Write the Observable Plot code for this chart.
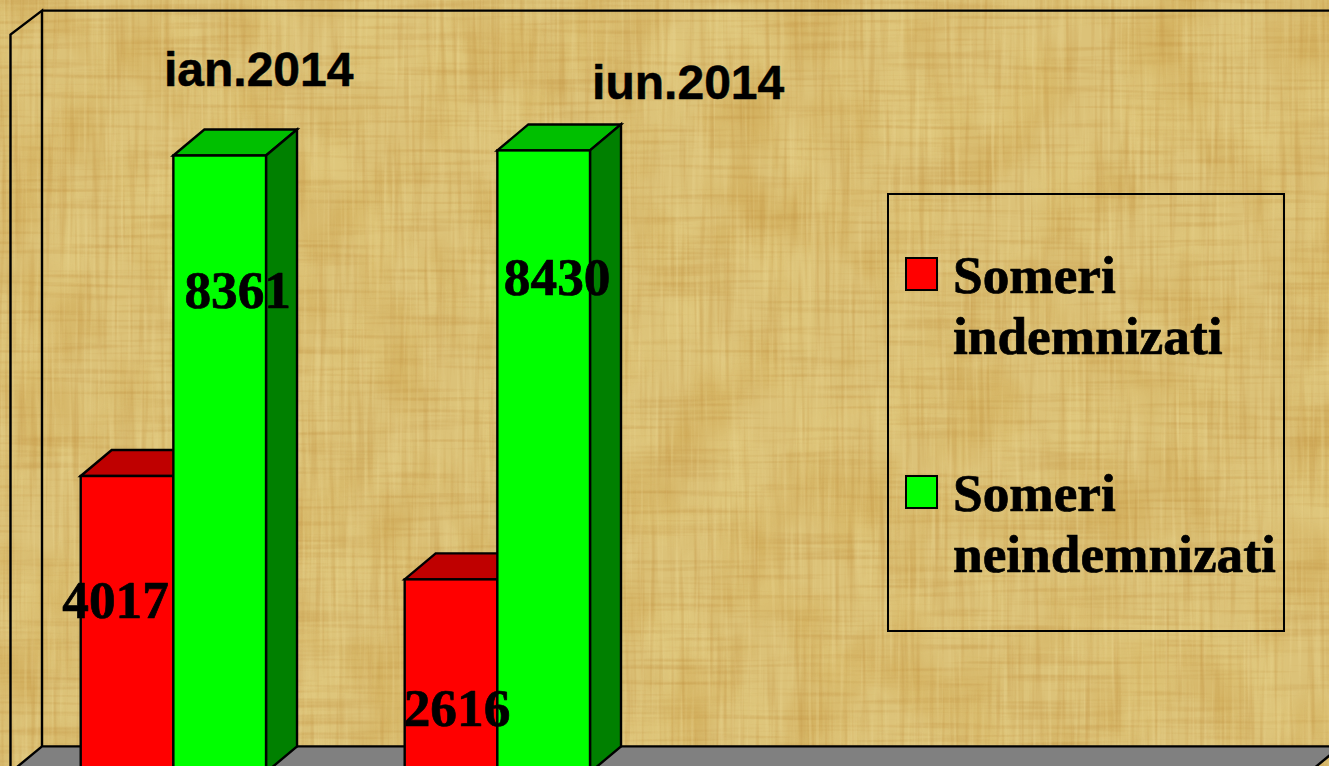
<!DOCTYPE html>
<html>
<head>
<meta charset="utf-8">
<script src="https://cdn.jsdelivr.net/npm/d3@7"></script>
<script src="https://cdn.jsdelivr.net/npm/@observablehq/plot@0.6"></script>
<style>
html,body{margin:0;padding:0;width:1329px;height:766px;overflow:hidden;background:#dcc27f}
#paper{position:absolute;left:0;top:0}
#chart{position:absolute;left:0;top:0}
</style>
</head>
<body>
<svg id="paper" width="1329" height="766" xmlns="http://www.w3.org/2000/svg">
  <defs>
    <filter id="patch" x="0" y="0" width="100%" height="100%" color-interpolation-filters="sRGB">
      <feTurbulence type="fractalNoise" baseFrequency="0.014 0.011" numOctaves="3" seed="7"/>
      <feColorMatrix type="matrix" values="0 0 0 0 0.78  0 0 0 0 0.60  0 0 0 0 0.24  2.6 0 0 0 -1.12"/>
    </filter>
    <filter id="pale" x="0" y="0" width="100%" height="100%" color-interpolation-filters="sRGB">
      <feTurbulence type="fractalNoise" baseFrequency="0.017 0.013" numOctaves="2" seed="21"/>
      <feColorMatrix type="matrix" values="0 0 0 0 0.90  0 0 0 0 0.82  0 0 0 0 0.52  3 0 0 0 -1.3"/>
    </filter>
    <filter id="vert" x="0" y="0" width="100%" height="100%" color-interpolation-filters="sRGB">
      <feTurbulence type="fractalNoise" baseFrequency="0.2 0.008" numOctaves="2" seed="3"/>
      <feColorMatrix type="matrix" values="0 0 0 0 0.74  0 0 0 0 0.54  0 0 0 0 0.22  3 0 0 0 -1.45"/>
    </filter>
    <filter id="horiz" x="0" y="0" width="100%" height="100%" color-interpolation-filters="sRGB">
      <feTurbulence type="fractalNoise" baseFrequency="0.008 0.2" numOctaves="2" seed="11"/>
      <feColorMatrix type="matrix" values="0 0 0 0 0.74  0 0 0 0 0.54  0 0 0 0 0.22  3 0 0 0 -1.45"/>
    </filter>
    <filter id="light" x="0" y="0" width="100%" height="100%" color-interpolation-filters="sRGB">
      <feTurbulence type="fractalNoise" baseFrequency="0.25 0.01" numOctaves="2" seed="17"/>
      <feColorMatrix type="matrix" values="0 0 0 0 0.93  0 0 0 0 0.86  0 0 0 0 0.60  3 0 0 0 -1.5"/>
    </filter>
  </defs>
  <rect width="1329" height="766" fill="#dcc278"/>
  <rect width="1329" height="766" filter="url(#patch)" opacity="0.4"/>
  <rect width="1329" height="766" filter="url(#pale)" opacity="0.35"/>
  <rect width="1329" height="766" filter="url(#vert)" opacity="0.28"/>
  <rect width="1329" height="766" filter="url(#horiz)" opacity="0.28"/>
  <rect width="1329" height="766" filter="url(#light)" opacity="0.3"/>
</svg>
<div id="chart"></div>
<script>
const categories = ["ian.2014", "iun.2014"];
const seriesNames = ["Someri indemnizati", "Someri neindemnizati"];
const indemnizati = [4017, 2616];
const neindemnizati = [8361, 8430];
const seriesColors = ["#ff0000", "#00ff00"];
const legendLines = [["Someri", "indemnizati"], ["Someri", "neindemnizati"]];

const rows = categories.flatMap((category, i) => [
  {category, series: seriesNames[0], value: indemnizati[i]},
  {category, series: seriesNames[1], value: neindemnizati[i]}
]);
const find = (category, series) => rows.filter(d => d.category === category && d.series === seriesNames[series]);

const serif = "'Liberation Serif','Times New Roman',serif";
const sans = "'Liberation Sans',Arial,sans-serif";
const ink = "#000";
const chartWidth = 1329, wallLeft = 10.5, wallRight = 20;

// Back wall, side wall and floor of the 3D box, derived from the y scale
function box(index, {y}) {
  const dx = 31.5, dyTop = 24, dyBot = 26;
  const x0 = wallLeft, x1 = chartWidth - wallRight;
  const yTop = y(10000), yBot = y(0);
  const g = d3.create("svg:g").attr("fill", "none").attr("stroke", ink).attr("stroke-width", 2.4);
  g.append("polygon")
    .attr("points", [[x0 + dx, yBot - dyBot], [x1 + dx, yBot - dyBot], [x1, yBot], [x0, yBot]].join(" "))
    .attr("fill", "#808080");
  g.append("polyline")
    .attr("points", [[x0, yBot + 10], [x0, yTop], [x0 + dx, yTop - dyTop], [x0 + dx, yBot - dyBot]].join(" "));
  g.append("line")
    .attr("x1", x0 + dx).attr("y1", yTop - dyTop).attr("x2", x1 + dx).attr("y2", yTop - dyTop);
  return g.node();
}

// Top and side faces of each bar, taken from the rectangle Plot drew
function extrude(index, scales, values, dimensions, context, next) {
  const g = next(index, scales, values, dimensions, context);
  const dx = 31, dy = 26;
  const shade = (fill, k) => { const c = d3.rgb(fill); return `rgb(${c.r * k},${c.g * k},${c.b * k})`; };
  for (const rect of [...g.querySelectorAll("rect")]) {
    const x = +rect.getAttribute("x"), y = +rect.getAttribute("y");
    const w = +rect.getAttribute("width"), h = +rect.getAttribute("height");
    const fill = rect.getAttribute("fill");
    const face = (points, color) => {
      const p = document.createElementNS("http://www.w3.org/2000/svg", "polygon");
      p.setAttribute("points", points.join(" "));
      p.setAttribute("fill", color);
      rect.parentNode.insertBefore(p, rect);
    };
    face([[x, y], [x + dx, y - dy], [x + w + dx, y - dy], [x + w, y]], shade(fill, 0.75));
    face([[x + w, y], [x + w + dx, y - dy], [x + w + dx, y + h - dy], [x + w, y + h]], shade(fill, 0.5));
  }
  return g;
}

function legend(index, {color}) {
  const g = d3.create("svg:g").attr("text-anchor", "start");
  g.append("rect").attr("x", 888).attr("y", 194).attr("width", 396).attr("height", 437)
    .attr("fill", "none").attr("stroke", ink).attr("stroke-width", 2);
  seriesNames.forEach((name, i) => {
    const top = 258 + i * 218;
    g.append("rect").attr("x", 906).attr("y", top).attr("width", 31).attr("height", 32)
      .attr("fill", color(name)).attr("stroke", ink).attr("stroke-width", 2);
    legendLines[i].forEach((line, j) => {
      g.append("text").attr("x", 953).attr("y", top + 35 + j * 61)
        .attr("font-family", serif).attr("font-weight", "bold").attr("font-size", 53.3)
        .attr("fill", ink).attr("stroke", ink).attr("stroke-width", 0.7).text(line);
    });
  });
  return g.node();
}

const valueLabel = (category, series, dx, dy) =>
  Plot.text(find(category, series), {
    fx: "category", x: "series", y: "value", text: d => String(d.value),
    dx, dy, textAnchor: "middle", lineAnchor: "bottom",
    fontFamily: serif, fontWeight: "bold", fontSize: 53.3, fill: ink, stroke: ink, strokeWidth: 0.7
  });

const categoryLabel = (category, dx, dy) =>
  Plot.text(find(category, 1), {
    fx: "category", x: "series", y: "value", text: "category",
    dx, dy, textAnchor: "middle", lineAnchor: "bottom",
    fontFamily: sans, fontWeight: "bold", fontSize: 48, fill: ink, stroke: ink, strokeWidth: 0.5
  });

const chart = Plot.plot({
  width: chartWidth,
  height: 766,
  marginLeft: wallLeft,
  marginRight: wallRight,
  marginTop: 0,
  marginBottom: 0,
  style: {background: "transparent", overflow: "hidden"},
  fx: {domain: categories, range: [80.7, 590], paddingInner: 0.428, paddingOuter: 0, round: false, axis: null, label: null},
  x: {domain: seriesNames, padding: 0, round: false, axis: null, label: null},
  y: {domain: [0, 10000], range: [772.4, 34.6], axis: null, label: null},
  color: {domain: seriesNames, range: seriesColors},
  marks: [
    Plot.frame({facet: "super", render: box}),
    Plot.barY(rows, {
      fx: "category", x: "series", y: "value", fill: "series",
      stroke: ink, strokeWidth: 2.4, render: extrude
    }),
    valueLabel("ian.2014", 0, -12, 141),
    valueLabel("iun.2014", 0, 5.5, 146),
    valueLabel("ian.2014", 1, 17.5, 151.5),
    valueLabel("iun.2014", 1, 13, 144.5),
    categoryLabel("ian.2014", 38.5, -70.5),
    categoryLabel("iun.2014", 144, -52),
    Plot.frame({facet: "super", render: legend})
  ]
});
document.getElementById("chart").appendChild(chart);
</script>
</body>
</html>
